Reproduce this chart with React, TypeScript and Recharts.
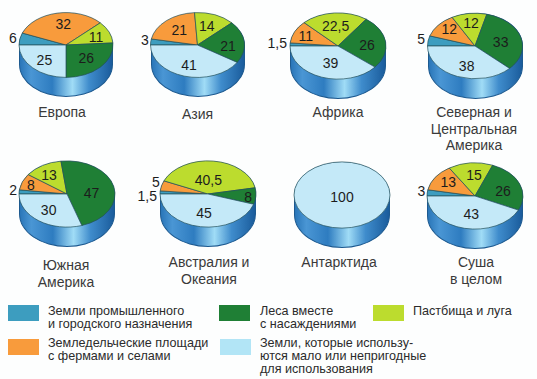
import React from 'react';
import { PieChart, Pie, Cell } from 'recharts';

// order of slices, clockwise from the left edge of each disc
const sliceNames = ['Промышленные', 'Земледельческие', 'Пастбища', 'Леса', 'Прочие'];
const sliceColors = ['#3d9dbf', '#f89b3c', '#bcdc2e', '#1f7f35', '#c4e9f8'];

const europe = [6, 32, 11, 26, 25];
const asia = [3, 21, 14, 21, 41];
const africa = [1.5, 11, 22.5, 26, 39];
const northAmerica = [5, 12, 12, 33, 38];
const southAmerica = [2, 8, 13, 47, 30];
const australia = [1.5, 5, 40.5, 8, 45];
const antarctica = [0, 0, 0, 0, 100];
const land = [3, 13, 15, 26, 43];

const RY = 0.69; // squash of the disc
const DEPTH = 20;

// hand tweaks for the number labels, one [dx, dy] per slice
const discs = [
  { title: ['Европа'], values: europe, cx: 66, cy: 45, r: 47, titleX: 62, titleY: 112,
    nudge: [[1, -1], [3, 0], [2, 0], [-2, -1], [0, 0]] },
  { title: ['Азия'], values: asia, cx: 197.5, cy: 45, r: 47, titleX: 197.5, titleY: 114,
    nudge: [[2, -2], [2, 1], [-2, 1], [0, 3], [0, 0]] },
  { title: ['Африка'], values: africa, cx: 338, cy: 46, r: 48, titleX: 338, titleY: 112,
    nudge: [[1, -1], [-4, -1], [0, 1], [-2, 2], [3, -3]] },
  { title: ['Северная и', 'Центральная', 'Америка'], values: northAmerica, cx: 475, cy: 46, r: 47.5, titleX: 474, titleY: 112,
    nudge: [[1, -2], [-2, -3], [0, -2], [-4, 2], [3, 0]] },
  { title: ['Южная', 'Америка'], values: southAmerica, cx: 67, cy: 194, r: 48, titleX: 66, titleY: 265,
    nudge: [[2, -2], [-7, -1], [-2, 0], [-6, 4], [0, -1]] },
  { title: ['Австралия и', 'Океания'], values: australia, cx: 208, cy: 194, r: 48, titleX: 209, titleY: 262,
    nudge: [[1, 3.5], [-22, -7], [-3, 7], [9, 2], [1, -2]] },
  { title: ['Антарктида'], values: antarctica, cx: 342, cy: 195, r: 48, titleX: 339, titleY: 262,
    nudge: [[0, 0], [0, 0], [0, 0], [0, 0], [0, 2]] },
  { title: ['Суша', 'в целом'], values: land, cx: 475, cy: 196, r: 48, titleX: 476, titleY: 262,
    nudge: [[2, -2], [-1, -2], [2, 0], [-1, 3], [3, -3]] },
];

const legendItems = [
  { color: sliceColors[0], x: 8, y: 305, textX: 48, textY: 305, lines: ['Земли промышленного', 'и городского назначения'] },
  { color: sliceColors[3], x: 219, y: 305, textX: 260, textY: 305, lines: ['Леса вместе', 'с насаждениями'] },
  { color: sliceColors[2], x: 373, y: 305, textX: 413, textY: 305, lines: ['Пастбища и луга'] },
  { color: sliceColors[1], x: 8, y: 339, textX: 48, textY: 337, lines: ['Земледельческие площади', 'с фермами и селами'] },
  { color: '#b2e5f6', x: 220, y: 339, textX: 260, textY: 337, lines: ['Земли, которые использу-', 'ются мало или непригодные', 'для использования'] },
];

const FONT = '"Liberation Sans", Arial, sans-serif';
const RAD = Math.PI / 180;

const EllipseSlice = (props: any) => {
  const { cx, cy, outerRadius, startAngle, endAngle, fill } = props;
  const rx = outerRadius;
  const ry = outerRadius * RY;
  const stroke = '#24505a';
  if (Math.abs(endAngle - startAngle) >= 359.9) {
    return <ellipse cx={cx} cy={cy} rx={rx} ry={ry} fill={fill} stroke={stroke} strokeWidth={0.7} />;
  }
  const x1 = cx + rx * Math.cos(startAngle * RAD);
  const y1 = cy - ry * Math.sin(startAngle * RAD);
  const x2 = cx + rx * Math.cos(endAngle * RAD);
  const y2 = cy - ry * Math.sin(endAngle * RAD);
  const large = Math.abs(endAngle - startAngle) > 180 ? 1 : 0;
  return (
    <path
      d={`M${cx},${cy}L${x1},${y1}A${rx},${ry} 0 ${large} 1 ${x2},${y2}Z`}
      fill={fill}
      stroke={stroke}
      strokeWidth={0.7}
    />
  );
};

const SliceLabel = (props: any) => {
  const { cx, cy, outerRadius, midAngle, value, index, nudge } = props;
  if (!value) return null;
  const text = String(value).replace('.', ',');
  const rx = outerRadius;
  const ry = outerRadius * RY;
  const [dx, dy] = nudge[index];
  if (index === 0) {
    // smallest slice: number sits outside the disc
    const x = cx + rx * Math.cos(midAngle * RAD) - 4 + dx;
    const y = cy - ry * Math.sin(midAngle * RAD) + dy;
    return (
      <text x={x} y={y} textAnchor="end" dominantBaseline="central" fontFamily={FONT} fontSize={14} fill="#1c1c1c">
        {text}
      </text>
    );
  }
  const k = value === 100 ? 0 : 0.65;
  const x = cx + k * rx * Math.cos(midAngle * RAD) + dx;
  const y = cy - k * ry * Math.sin(midAngle * RAD) + dy;
  return (
    <text x={x} y={y} textAnchor="middle" dominantBaseline="central" fontFamily={FONT} fontSize={14} fill="#1c1c1c">
      {text}
    </text>
  );
};

export default function App() {
  return (
    <div style={{ position: 'absolute', left: 0, top: 0, width: 537, height: 379, overflow: 'hidden', background: '#fdfefe' }}>
      {discs.map((d, i) => {
        const ry = d.r * RY;
        return (
          <div
            key={i}
            style={{
              position: 'absolute',
              boxSizing: 'border-box',
              left: d.cx - d.r,
              top: d.cy - ry,
              width: d.r * 2,
              height: ry * 2 + DEPTH,
              borderRadius: `${d.r}px / ${ry}px`,
              border: '1px solid #1d5a90',
              background:
                'linear-gradient(90deg, #2a76b8 0%, #4a96d4 12%, #2e7cc0 35%, #a0dcf6 57%, #3f8ccc 75%, #1a5c9c 100%)',
            }}
          />
        );
      })}
      <PieChart
        width={537}
        height={379}
        margin={{ top: 0, right: 0, bottom: 0, left: 0 }}
        style={{ position: 'absolute', left: 0, top: 0 }}
      >
        {discs.map((d, i) => (
          <Pie
            key={i}
            data={d.values.map((value, j) => ({ name: sliceNames[j], value }))}
            dataKey="value"
            cx={d.cx}
            cy={d.cy}
            innerRadius={0}
            outerRadius={d.r}
            startAngle={180}
            endAngle={-180}
            paddingAngle={0}
            stroke="none"
            shape={EllipseSlice}
            label={(p: any) => <SliceLabel {...p} nudge={d.nudge} />}
            labelLine={false}
            isAnimationActive={false}
          >
            {d.values.map((_, j) => (
              <Cell key={j} fill={sliceColors[j]} />
            ))}
          </Pie>
        ))}
      </PieChart>
      {discs.map((d, i) => (
        <div
          key={i}
          style={{
            position: 'absolute',
            left: d.titleX - 60,
            top: d.titleY - 8,
            width: 120,
            textAlign: 'center',
            fontFamily: FONT,
            fontSize: 14,
            lineHeight: '16.5px',
            color: '#3a3a3a',
          }}
        >
          {d.title.map((t) => (
            <div key={t}>{t}</div>
          ))}
        </div>
      ))}
      {legendItems.map((item, i) => (
        <React.Fragment key={i}>
          <div style={{ position: 'absolute', left: item.x, top: item.y, width: 31, height: 16, background: item.color }} />
          <div
            style={{
              position: 'absolute',
              left: item.textX,
              top: item.textY,
              fontFamily: FONT,
              fontSize: 12.6,
              lineHeight: '13px',
              whiteSpace: 'nowrap',
              color: '#2b2b2b',
            }}
          >
            {item.lines.map((t) => (
              <div key={t}>{t}</div>
            ))}
          </div>
        </React.Fragment>
      ))}
    </div>
  );
}
